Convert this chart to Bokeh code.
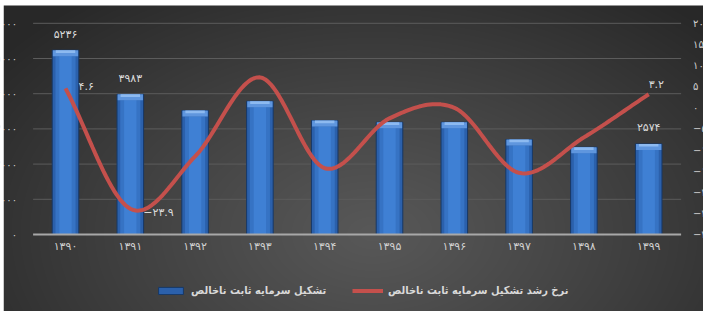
import numpy as np
from bokeh.plotting import figure
from bokeh.models import Range1d, ColumnDataSource, Legend, LegendItem
from bokeh.core.properties import value
from bokeh.embed import file_html
from bokeh.resources import INLINE

# ---------------- data ----------------
years = ["1390", "1391", "1392", "1393", "1394", "1395", "1396", "1397", "1398", "1399"]
investment = [5236, 3983, 3523, 3787, 3239, 3190, 3190, 2699, 2480, 2574]
growth = [4.6, -23.9, -11.5, 7.2, -14.3, -2.5, 0.0, -15.4, -7.0, 3.2]
left_ticks = [0, 1000, 2000, 3000, 4000, 5000, 6000]
right_ticks = [20, 15, 10, 5, 0, -5, -10, -15, -20, -25, -30]
bar_label_idx = [0, 1, 9]
line_label_idx = [0, 1, 9]
bar_name = "تشکیل سرمایه ثابت ناخالص"
line_name = "نرخ رشد تشکیل سرمایه ثابت ناخالص"

FA = str.maketrans("0123456789-", "۰۱۲۳۴۵۶۷۸۹−")


def fa(v):
    return str(v).translate(FA)


# ---------------- geometry ----------------
W, H = 703, 311
PX_X = 64.8          # pixels per category
X0_PX = 65           # pixel position of first category
TOP_PX, BOT_PX = 22.8, 234.0
BG_LEFT, BG_TOP = 3, 5


def yrange(lo, hi):
    s = (BOT_PX - TOP_PX) / (hi - lo)
    return Range1d(lo - (H - BOT_PX) / s, hi + TOP_PX / s)


n = len(years)
xs = list(range(n))
xr = Range1d(-X0_PX / PX_X, (W - X0_PX) / PX_X)
yr = yrange(min(left_ticks), max(left_ticks))
dx = (xr.end - xr.start) / W
dy = (yr.end - yr.start) / H

p = figure(width=W, height=H, x_range=xr, y_range=yr,
           output_backend="svg", toolbar_location=None,
           x_axis_location=None, y_axis_location=None,
           min_border=0, outline_line_color=None,
           background_fill_color="white", border_fill_color="white")
p.extra_y_ranges = {"rate": yrange(min(right_ticks), max(right_ticks))}
p.xgrid.visible = False
p.ygrid.visible = False

# ---------------- background gradient ----------------
BW, BH = W - BG_LEFT, H - BG_TOP
yy, xx = np.mgrid[0:BH, 0:BW].astype(float)
xx += BG_LEFT
yy += BG_TOP
cx, cy, rx, ry = 372.0, 232.0, 470.0, 300.0
t = np.clip(np.sqrt(((xx - cx) / rx) ** 2 + ((yy - cy) / ry) ** 2), 0, 1) ** 1.1
c_in, c_out = np.array([88, 88, 88]), np.array([40, 40, 40])
img = np.empty((BH, BW), dtype=np.uint32)
view = img.view(dtype=np.uint8).reshape((BH, BW, 4))
for k in range(3):
    view[:, :, k] = np.flipud(c_in[k] * (1 - t) + c_out[k] * t).astype(np.uint8)
view[:, :, 3] = 255
p.image_rgba(image=[img], x=xr.start + BG_LEFT * dx, y=yr.start,
             dw=BW * dx, dh=BH * dy)

# ---------------- grid ----------------
p.segment(x0=[-0.5] * (len(left_ticks) - 1), x1=[n - 0.5] * (len(left_ticks) - 1),
          y0=left_ticks[1:], y1=left_ticks[1:], line_color="#5c5c5c", line_width=1)

# ---------------- bars ----------------
inv = np.array(investment, dtype=float)
cap = 6.0 * dy
src = ColumnDataSource(dict(x=xs, top=investment, cap0=inv - cap, cap1=inv - cap * 0.45))
bars = p.vbar(x="x", top="top", bottom=0, width=0.41, source=src,
              fill_color="#2b60ab", line_color="#173866", line_width=1)
p.vbar(x="x", top="cap0", bottom=0, width=0.31, source=src, fill_color="#3673c4", line_color=None)
p.vbar(x="x", top="cap0", bottom=0, width=0.19, source=src, fill_color="#3f80d4", line_color=None)
p.vbar(x="x", top="top", bottom="cap0", width=0.39, source=src, fill_color="#5f96de", line_color=None)
p.vbar(x="x", top="top", bottom="cap1", width=0.30, source=src, fill_color="#8dbaf0", line_color=None)

# baseline
p.segment(x0=[-0.5], x1=[n - 0.5], y0=[0], y1=[0], line_color="#a8a8a8", line_width=2)


# ---------------- smoothed line ----------------
def catmull(xv, yv, steps=24):
    P = np.column_stack([xv, yv]).astype(float)
    P = np.vstack([2 * P[0] - P[1], P, 2 * P[-1] - P[-2]])
    out = []
    tt = np.linspace(0, 1, steps, endpoint=False)[:, None]
    for i in range(1, len(P) - 2):
        p0, p1, p2, p3 = P[i - 1], P[i], P[i + 1], P[i + 2]
        seg = 0.5 * (2 * p1 + (-p0 + p2) * tt + (2 * p0 - 5 * p1 + 4 * p2 - p3) * tt ** 2
                     + (-p0 + 3 * p1 - 3 * p2 + p3) * tt ** 3)
        out.append(seg)
    out.append(P[-2][None, :])
    out = np.vstack(out)
    return out[:, 0], out[:, 1]


sx, sy = catmull(xs, growth)
line = p.line(sx, sy, y_range_name="rate", line_color="#c4504c", line_width=4)

# ---------------- axis tick labels ----------------
lab_font = value("DejaVu Sans")
p.text(x=[-0.5] * len(left_ticks), y=left_ticks, text=[fa(v) for v in left_ticks],
       x_offset=-16, text_align="right", text_baseline="middle",
       text_font=lab_font, text_font_size="10px", text_color="#d0d0d0")
p.text(x=[n - 0.5] * len(right_ticks), y=right_ticks, text=[fa(v) for v in right_ticks],
       x_offset=12, text_align="left", text_baseline="middle", y_range_name="rate",
       text_font=lab_font, text_font_size="10px", text_color="#d0d0d0")
p.text(x=xs, y=[0] * n, text=[fa(y) for y in years], y_offset=12,
       text_align="center", text_baseline="middle",
       text_font=lab_font, text_font_size="11px", text_color="#d0d0d0")

# white page edge over the clipped tick labels
p.quad(left=[xr.start], right=[xr.start + BG_LEFT * dx], bottom=[yr.start], top=[yr.end],
       fill_color="white", line_color=None)

# ---------------- data labels ----------------
p.text(x=[xs[i] for i in bar_label_idx], y=[investment[i] for i in bar_label_idx],
       text=[fa(investment[i]) for i in bar_label_idx], y_offset=-16,
       text_align="center", text_baseline="middle",
       text_font=lab_font, text_font_size="11px", text_color="#dadada")
loffs_x = [13, 13, 0]
loffs_y = [-2, 4, -10]
p.text(x=[xs[i] for i in line_label_idx], y=[growth[i] for i in line_label_idx],
       text=[fa(growth[i]) for i in line_label_idx], x_offset=loffs_x, y_offset=loffs_y,
       y_range_name="rate", text_align="left", text_baseline="middle",
       text_font=lab_font, text_font_size="11px", text_color="#dadada")

# ---------------- legend ----------------
leg_style = dict(orientation="horizontal", glyph_width=31, glyph_height=9,
                 label_height=9, label_standoff=5, padding=0, margin=0,
                 background_fill_alpha=0, border_line_alpha=0,
                 label_text_font="DejaVu Sans Condensed", label_text_font_style="bold",
                 label_text_font_size="11px", label_text_color="#d9d9d9")
leg1 = Legend(items=[LegendItem(label=bar_name, renderers=[bars])],
              location=(155, 14), **leg_style)
leg2 = Legend(items=[LegendItem(label=line_name, renderers=[line])],
              location=(352, 14), **leg_style)
p.add_layout(leg1, "center")
p.add_layout(leg2, "center")

open("out.html", "w").write(file_html(p, INLINE))
